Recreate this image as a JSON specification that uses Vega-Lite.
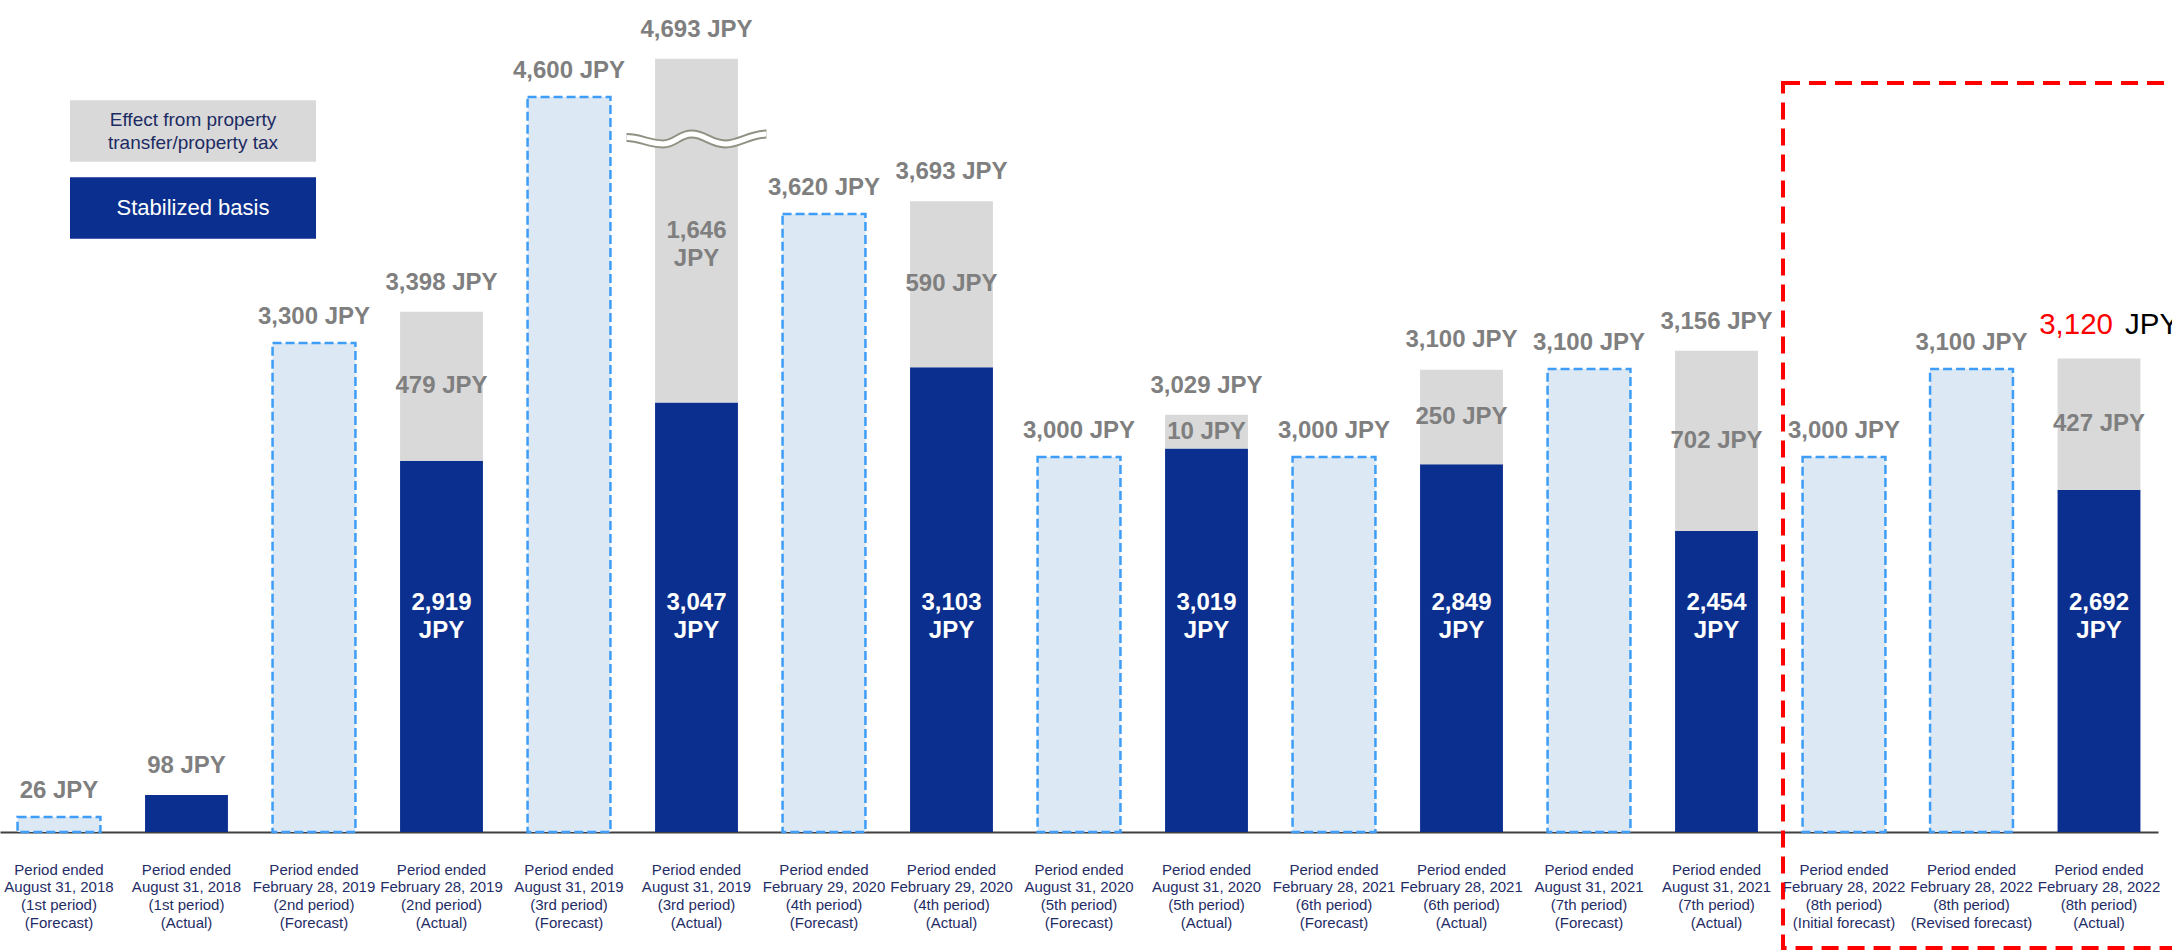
{
  "$schema": "https://vega.github.io/schema/vega-lite/v6.json",
  "width": 2158,
  "height": 832,
  "autosize": {"type": "none"},
  "padding": {"left": 0, "top": 0, "right": 14, "bottom": 119},
  "background": "#ffffff",
  "config": {
    "view": {"stroke": null},
    "font": "Liberation Sans",
    "axisX": {"domainColor": "#404040", "domainWidth": 2, "ticks": false, "grid": false, "labelFont": "Liberation Sans", "labelFontSize": 15, "labelColor": "#1f2d66", "labelLineHeight": 17.7, "labelPadding": 30, "labelAngle": 0, "labelBaseline": "top", "labelLimit": 300, "labelOverlap": false}
  },
  "datasets": {
    "forecasts": [
      {"period": "Period ended\nAugust 31, 2018\n(1st period)\n(Forecast)", "value": 26},
      {"period": "Period ended\nFebruary 28, 2019\n(2nd period)\n(Forecast)", "value": 3300},
      {"period": "Period ended\nAugust 31, 2019\n(3rd period)\n(Forecast)", "value": 4600},
      {"period": "Period ended\nFebruary 29, 2020\n(4th period)\n(Forecast)", "value": 3620},
      {"period": "Period ended\nAugust 31, 2020\n(5th period)\n(Forecast)", "value": 3000},
      {"period": "Period ended\nFebruary 28, 2021\n(6th period)\n(Forecast)", "value": 3000},
      {"period": "Period ended\nAugust 31, 2021\n(7th period)\n(Forecast)", "value": 3100},
      {"period": "Period ended\nFebruary 28, 2022\n(8th period)\n(Initial forecast)", "value": 3000},
      {"period": "Period ended\nFebruary 28, 2022\n(8th period)\n(Revised forecast)", "value": 3100}
    ],
    "segments": [
      {"period": "Period ended\nAugust 31, 2018\n(1st period)\n(Actual)", "component": "Stabilized basis", "value": 98},
      {"period": "Period ended\nFebruary 28, 2019\n(2nd period)\n(Actual)", "component": "Stabilized basis", "value": 2919, "label": "2,919\nJPY"},
      {"period": "Period ended\nFebruary 28, 2019\n(2nd period)\n(Actual)", "component": "Effect from property transfer/property tax", "value": 479, "label": "479 JPY"},
      {"period": "Period ended\nAugust 31, 2019\n(3rd period)\n(Actual)", "component": "Stabilized basis", "value": 3047, "label": "3,047\nJPY"},
      {"period": "Period ended\nAugust 31, 2019\n(3rd period)\n(Actual)", "component": "Effect from property transfer/property tax", "value": 1646, "label": "1,646\nJPY"},
      {"period": "Period ended\nFebruary 29, 2020\n(4th period)\n(Actual)", "component": "Stabilized basis", "value": 3103, "label": "3,103\nJPY"},
      {"period": "Period ended\nFebruary 29, 2020\n(4th period)\n(Actual)", "component": "Effect from property transfer/property tax", "value": 590, "label": "590 JPY"},
      {"period": "Period ended\nAugust 31, 2020\n(5th period)\n(Actual)", "component": "Stabilized basis", "value": 3019, "label": "3,019\nJPY"},
      {"period": "Period ended\nAugust 31, 2020\n(5th period)\n(Actual)", "component": "Effect from property transfer/property tax", "value": 10, "label": "10 JPY"},
      {"period": "Period ended\nFebruary 28, 2021\n(6th period)\n(Actual)", "component": "Stabilized basis", "value": 2849, "label": "2,849\nJPY"},
      {"period": "Period ended\nFebruary 28, 2021\n(6th period)\n(Actual)", "component": "Effect from property transfer/property tax", "value": 250, "label": "250 JPY"},
      {"period": "Period ended\nAugust 31, 2021\n(7th period)\n(Actual)", "component": "Stabilized basis", "value": 2454, "label": "2,454\nJPY"},
      {"period": "Period ended\nAugust 31, 2021\n(7th period)\n(Actual)", "component": "Effect from property transfer/property tax", "value": 702, "label": "702 JPY"},
      {"period": "Period ended\nFebruary 28, 2022\n(8th period)\n(Actual)", "component": "Stabilized basis", "value": 2692, "label": "2,692\nJPY"},
      {"period": "Period ended\nFebruary 28, 2022\n(8th period)\n(Actual)", "component": "Effect from property transfer/property tax", "value": 427, "label": "427 JPY"}
    ],
    "totals": [
      {"period": "Period ended\nAugust 31, 2018\n(1st period)\n(Forecast)", "kind": "Forecast", "total": 26, "label": "26 JPY"},
      {"period": "Period ended\nAugust 31, 2018\n(1st period)\n(Actual)", "kind": "Actual", "total": 98, "label": "98 JPY"},
      {"period": "Period ended\nFebruary 28, 2019\n(2nd period)\n(Forecast)", "kind": "Forecast", "total": 3300, "label": "3,300 JPY"},
      {"period": "Period ended\nFebruary 28, 2019\n(2nd period)\n(Actual)", "kind": "Actual", "total": 3398, "label": "3,398 JPY"},
      {"period": "Period ended\nAugust 31, 2019\n(3rd period)\n(Forecast)", "kind": "Forecast", "total": 4600, "label": "4,600 JPY"},
      {"period": "Period ended\nAugust 31, 2019\n(3rd period)\n(Actual)", "kind": "Actual", "total": 4693, "label": "4,693 JPY"},
      {"period": "Period ended\nFebruary 29, 2020\n(4th period)\n(Forecast)", "kind": "Forecast", "total": 3620, "label": "3,620 JPY"},
      {"period": "Period ended\nFebruary 29, 2020\n(4th period)\n(Actual)", "kind": "Actual", "total": 3693, "label": "3,693 JPY"},
      {"period": "Period ended\nAugust 31, 2020\n(5th period)\n(Forecast)", "kind": "Forecast", "total": 3000, "label": "3,000 JPY"},
      {"period": "Period ended\nAugust 31, 2020\n(5th period)\n(Actual)", "kind": "Actual", "total": 3029, "label": "3,029 JPY"},
      {"period": "Period ended\nFebruary 28, 2021\n(6th period)\n(Forecast)", "kind": "Forecast", "total": 3000, "label": "3,000 JPY"},
      {"period": "Period ended\nFebruary 28, 2021\n(6th period)\n(Actual)", "kind": "Actual", "total": 3100, "label": "3,100 JPY"},
      {"period": "Period ended\nAugust 31, 2021\n(7th period)\n(Forecast)", "kind": "Forecast", "total": 3100, "label": "3,100 JPY"},
      {"period": "Period ended\nAugust 31, 2021\n(7th period)\n(Actual)", "kind": "Actual", "total": 3156, "label": "3,156 JPY"},
      {"period": "Period ended\nFebruary 28, 2022\n(8th period)\n(Initial forecast)", "kind": "Forecast", "total": 3000, "label": "3,000 JPY"},
      {"period": "Period ended\nFebruary 28, 2022\n(8th period)\n(Revised forecast)", "kind": "Forecast", "total": 3100, "label": "3,100 JPY"},
      {"period": "Period ended\nFebruary 28, 2022\n(8th period)\n(Actual)", "kind": "Actual", "total": 3120, "label": "3,120 JPY"}
    ]
  },
  "encoding": {
    "x": {
      "field": "period", "type": "nominal", "title": null, "sort": null,
      "scale": {
        "domain": [
          "Period ended\nAugust 31, 2018\n(1st period)\n(Forecast)",
          "Period ended\nAugust 31, 2018\n(1st period)\n(Actual)",
          "Period ended\nFebruary 28, 2019\n(2nd period)\n(Forecast)",
          "Period ended\nFebruary 28, 2019\n(2nd period)\n(Actual)",
          "Period ended\nAugust 31, 2019\n(3rd period)\n(Forecast)",
          "Period ended\nAugust 31, 2019\n(3rd period)\n(Actual)",
          "Period ended\nFebruary 29, 2020\n(4th period)\n(Forecast)",
          "Period ended\nFebruary 29, 2020\n(4th period)\n(Actual)",
          "Period ended\nAugust 31, 2020\n(5th period)\n(Forecast)",
          "Period ended\nAugust 31, 2020\n(5th period)\n(Actual)",
          "Period ended\nFebruary 28, 2021\n(6th period)\n(Forecast)",
          "Period ended\nFebruary 28, 2021\n(6th period)\n(Actual)",
          "Period ended\nAugust 31, 2021\n(7th period)\n(Forecast)",
          "Period ended\nAugust 31, 2021\n(7th period)\n(Actual)",
          "Period ended\nFebruary 28, 2022\n(8th period)\n(Initial forecast)",
          "Period ended\nFebruary 28, 2022\n(8th period)\n(Revised forecast)",
          "Period ended\nFebruary 28, 2022\n(8th period)\n(Actual)"
        ],
        "paddingInner": 0.35, "paddingOuter": 0.1377
      },
      "axis": {"labelExpr": "split(datum.label, '\\n')"}
    }
  },
  "layer": [
    {
      "data": {"name": "forecasts"},
      "mark": {"type": "bar", "fill": "#dde8f5", "stroke": "#3d9df7", "strokeWidth": 2.5, "strokeDash": [9, 4]},
      "encoding": {
        "y": {"field": "value", "type": "quantitative", "axis": null,
          "scale": {"type": "linear", "zero": false, "nice": false,
            "domain": [-200, 0, 26, 98, 2454, 2692, 2850, 3000, 3020, 3030, 3050, 3100, 3120, 3160, 3300, 3400, 3620, 3700, 4600, 4700],
            "range": [948, 832, 817, 795, 531, 490, 464, 457, 448, 411, 401, 369, 358, 350, 343, 311, 214, 200, 97, 56]}}
      }
    },
    {
      "data": {"name": "segments"},
      "mark": {"type": "bar"},
      "encoding": {
        "y": {"field": "value", "type": "quantitative", "stack": "zero", "axis": null},
        "color": {"field": "component", "type": "nominal",
          "scale": {"domain": ["Effect from property transfer/property tax", "Stabilized basis"], "range": ["#d9d9d9", "#0b2f8e"]},
          "legend": {
            "title": null, "orient": "none", "legendX": 162, "legendY": 100, "direction": "vertical", "padding": 0,
            "symbolType": "M-4,-1H4V1H-4Z", "symbolSize": 3782, "symbolStrokeWidth": 0, "symbolOpacity": 1,
            "labelOffset": -31, "labelAlign": "center", "labelBaseline": "middle", "labelLimit": 400,
            "labelFont": "Liberation Sans", "labelFontSize": 19, "labelColor": "#1c2b63", "rowPadding": 15,
            "labelExpr": "datum.value === 'Stabilized basis' ? datum.label : ['Effect from property', 'transfer/property tax']",
            "encode": {"labels": {"update": {
              "fill": {"signal": "datum.value === 'Stabilized basis' ? '#ffffff' : '#1c2b63'"},
              "fontSize": {"signal": "datum.value === 'Stabilized basis' ? 22 : 19"},
              "dy": {"signal": "datum.value === 'Stabilized basis' ? 0 : -11.5"},
              "lineHeight": {"value": 23}
            }}}
          }},
        "order": {"field": "component", "sort": "descending"}
      }
    },
    {
      "data": {"name": "segments"},
      "mark": {"type": "text", "baseline": "middle", "align": "center", "fontSize": 24, "fontWeight": "bold", "fill": "#7f7f7f", "lineBreak": "\n", "lineHeight": 28,
        "yOffset": {"expr": "(scale('y', datum.value_start) - scale('y', datum.value_end)) / 2"}},
      "encoding": {
        "y": {"field": "value", "type": "quantitative", "stack": "zero", "axis": null},
        "detail": {"field": "component"},
        "order": {"field": "component", "sort": "descending"},
        "text": {"condition": {"test": "datum.component !== 'Stabilized basis'", "field": "label", "type": "nominal"}, "value": ""}
      }
    },
    {
      "data": {"name": "segments"},
      "transform": [{"filter": "datum.component === 'Stabilized basis' && isValid(datum.label)"}],
      "mark": {"type": "text", "baseline": "middle", "align": "center", "fontSize": 24, "fontWeight": "bold", "fill": "#ffffff", "lineBreak": "\n", "lineHeight": 28},
      "encoding": {
        "y": {"datum": 1808, "type": "quantitative", "axis": null},
        "text": {"field": "label", "type": "nominal"}
      }
    },
    {
      "data": {"name": "totals"},
      "transform": [{"filter": "datum.kind === 'Forecast'"}],
      "mark": {"type": "text", "baseline": "alphabetic", "align": "center", "fontSize": 24, "fontWeight": "bold", "fill": "#7f7f7f", "dy": -19},
      "encoding": {
        "y": {"field": "total", "type": "quantitative", "axis": null},
        "text": {"field": "label", "type": "nominal"}
      }
    },
    {
      "data": {"name": "totals"},
      "transform": [{"filter": "datum.kind === 'Actual' && datum.label !== '3,120 JPY'"}],
      "mark": {"type": "text", "baseline": "alphabetic", "align": "center", "fontSize": 24, "fontWeight": "bold", "fill": "#7f7f7f", "dy": -22},
      "encoding": {
        "y": {"field": "total", "type": "quantitative", "axis": null},
        "text": {"field": "label", "type": "nominal"}
      }
    },
    {
      "data": {"name": "totals"},
      "transform": [{"filter": "datum.label === '3,120 JPY'"}],
      "mark": {"type": "text", "baseline": "alphabetic", "align": "right", "fontSize": 29.5, "fill": "#ff0000", "dx": 14, "dy": -24},
      "encoding": {
        "y": {"field": "total", "type": "quantitative", "axis": null},
        "text": {"field": "total", "type": "quantitative", "format": ","}
      }
    },
    {
      "data": {"name": "totals"},
      "transform": [{"filter": "datum.label === '3,120 JPY'"}],
      "mark": {"type": "text", "baseline": "alphabetic", "align": "left", "fontSize": 29.5, "fill": "#000000", "dx": 26, "dy": -24},
      "encoding": {
        "y": {"field": "total", "type": "quantitative", "axis": null},
        "text": {"value": "JPY"}
      }
    },
    {
      "data": {"values": [{}]},
      "mark": {"type": "point", "filled": false, "opacity": 1, "stroke": "#8e9282", "strokeWidth": 9, "size": 19600,
        "shape": "M-1,-0.02C-0.8,-0.02 -0.68,0.07 -0.48,0.07C-0.3,0.07 -0.25,-0.07 -0.07,-0.07C0.12,-0.07 0.2,0.07 0.41,0.07C0.62,0.07 0.75,-0.07 1,-0.07"},
      "encoding": {
        "x": {"datum": "Period ended\nAugust 31, 2019\n(3rd period)\n(Actual)", "type": "nominal", "title": null},
        "y": {"datum": 4233, "type": "quantitative", "axis": null}
      }
    },
    {
      "data": {"values": [{}]},
      "mark": {"type": "point", "filled": false, "opacity": 1, "stroke": "#ffffff", "strokeWidth": 5, "size": 19600,
        "shape": "M-1,-0.02C-0.8,-0.02 -0.68,0.07 -0.48,0.07C-0.3,0.07 -0.25,-0.07 -0.07,-0.07C0.12,-0.07 0.2,0.07 0.41,0.07C0.62,0.07 0.75,-0.07 1,-0.07"},
      "encoding": {
        "x": {"datum": "Period ended\nAugust 31, 2019\n(3rd period)\n(Actual)", "type": "nominal", "title": null},
        "y": {"datum": 4233, "type": "quantitative", "axis": null}
      }
    },
    {
      "data": {"values": [{}]},
      "mark": {"type": "rect", "fill": "transparent", "stroke": "#ff0000", "strokeWidth": 4, "strokeDash": [17, 9]},
      "encoding": {
        "x": {"datum": "Period ended\nFebruary 28, 2022\n(8th period)\n(Initial forecast)", "type": "nominal", "bandPosition": -0.236, "title": null},
        "x2": {"datum": "Period ended\nFebruary 28, 2022\n(8th period)\n(Actual)", "bandPosition": 2},
        "y": {"datum": 4634, "type": "quantitative", "axis": null},
        "y2": {"datum": -200}
      }
    }
  ]
}
